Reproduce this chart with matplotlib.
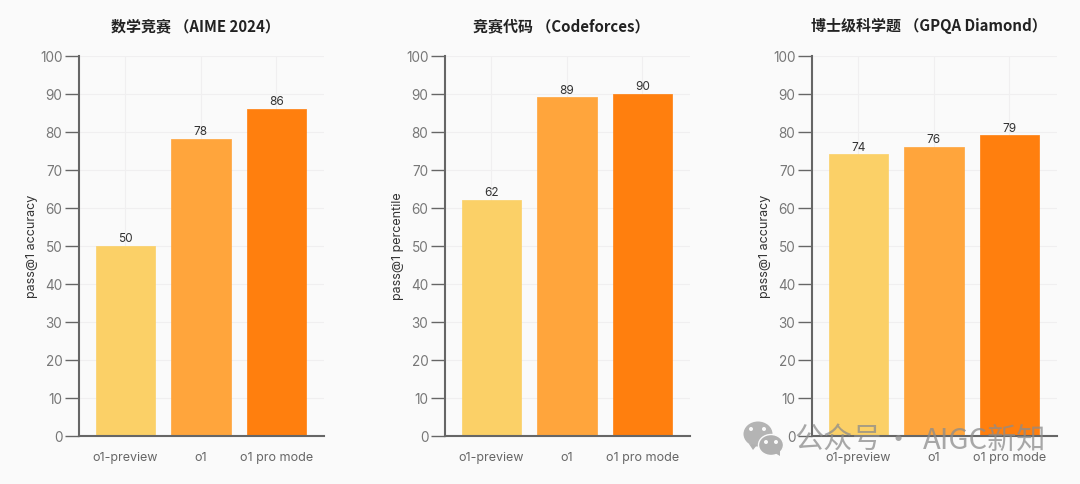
import matplotlib
matplotlib.use("Agg")
import matplotlib.pyplot as plt
from matplotlib.patches import Ellipse, Polygon

FAM = ['Inter', 'Noto Sans CJK SC', 'DejaVu Sans']
plt.rcParams['font.family'] = FAM

categories = ['o1-preview', 'o1', 'o1 pro mode']
titles = ['数学竞赛 （AIME 2024）', '竞赛代码 （Codeforces）', '博士级科学题 （GPQA Diamond）']
ylabels = ['pass@1 accuracy', 'pass@1 percentile', 'pass@1 accuracy']
aime_values = [50, 78, 86]
codeforces_values = [62, 89, 90]
gpqa_values = [74, 76, 79]
series = [aime_values, codeforces_values, gpqa_values]
colors = ['#FBD067', '#FFA53C', '#FF7F0E']
yticks = list(range(0, 101, 10))

W, H = 1080, 485
fig = plt.figure(figsize=(W / 100, H / 100), dpi=100, facecolor='#FAFAFA')
lefts = [79, 445, 812]
for left, vals, title, yl in zip(lefts, series, titles, ylabels):
    ax = fig.add_axes([left / W, 1 - 436.5 / H, 245 / W, 380 / H], facecolor='#FAFAFA')
    ax.set_axisbelow(True)
    ax.grid(True, color='#F0EFF0', linewidth=0.8)
    bars = ax.bar(range(3), vals, width=0.785, color=colors, edgecolor=colors, linewidth=0.5)
    for b in bars:
        b.set_joinstyle('round')
    for i, v in enumerate(vals):
        ax.text(i, v + 0.45, str(v), ha='center', va='bottom', fontsize=8.5, color='#333333')
    ax.set_xlim(-0.615, 2.63)
    ax.set_ylim(0, 100)
    ax.set_xticks(range(3), categories)
    ax.set_yticks(yticks)
    ax.tick_params(axis='y', length=10, width=1, color='#666666', labelcolor='#777777', labelsize=9.8, pad=2)
    ax.tick_params(axis='x', length=0, labelcolor='#666666', labelsize=9, pad=11.5)
    for s in ['top', 'right']:
        ax.spines[s].set_visible(False)
    for s in ['left', 'bottom']:
        ax.spines[s].set_color('#666666')
        ax.spines[s].set_linewidth(1.5)
    ax.set_ylabel(yl, fontsize=9, color='#333333')
    ax.yaxis.set_label_coords(-41 / 245, 0.5)
    fig.text((left + 116.5) / W, 1 - 26 / H, title, ha='center', va='center',
             fontsize=10.8, fontweight='bold', color='#222222',
             family=['Noto Sans CJK SC', 'DejaVu Sans'])

# watermark
ov = fig.add_axes([0, 0, 1, 1], facecolor='none')
ov.set_xlim(0, W); ov.set_ylim(H, 0); ov.axis('off')
wm = '#B0B0B0'
ov.add_patch(Ellipse((758, 435), 29, 25, color=wm, alpha=0.95, lw=0))
ov.add_patch(Ellipse((771, 446), 25, 21, color=wm, ec='#FAFAFA', lw=1))
ov.add_patch(Polygon([[749, 445], [753, 451], [757, 446]], color=wm, lw=0))
ov.add_patch(Polygon([[775, 454], [780, 457], [780, 451]], color=wm, lw=0))
for x, y in [(751, 430), (764, 430), (766, 443), (776, 443)]:
    ov.add_patch(Ellipse((x, y), 4, 4, color='#FAFAFA', lw=0))
wm_font = dict(va='center', fontsize=21, color='#8C8C8C', alpha=0.75,
               family=['Noto Sans CJK SC', 'DejaVu Sans'])
ov.text(795, 441, '公众号', ha='left', **wm_font)
ov.text(898, 441, '·', ha='center', **wm_font)
ov.text(1046, 441, 'AIGC新知', ha='right', **wm_font)

fig.savefig('out.png', dpi=100, facecolor=fig.get_facecolor())
